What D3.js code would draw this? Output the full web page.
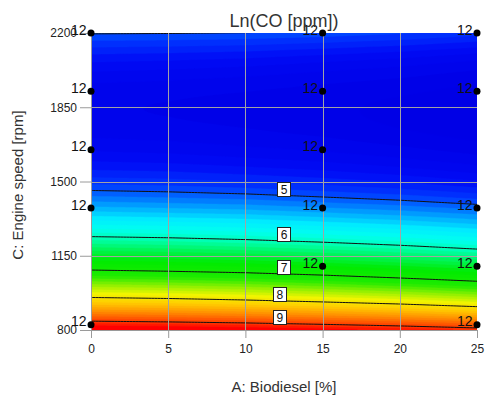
<!DOCTYPE html>
<html>
<head>
<meta charset="utf-8">
<script src="https://cdn.jsdelivr.net/npm/d3@7"></script>
<style>
  body { margin: 0; background: #fff; }
  svg { display: block; }
  text { font-family: Arial, "Liberation Sans", sans-serif; }
</style>
</head>
<body>
<svg id="chart" width="487" height="396"></svg>
<script>
// ---- data -------------------------------------------------------------
const biodieselLevels = [0, 5, 10, 15, 20, 25];                 // A: Biodiesel [%]
const speedLevels = [800, 940, 1080, 1220, 1360, 1500, 1640, 1780, 1920, 2060, 2200]; // C: Engine speed [rpm]

// Ln(CO [ppm]) along engine speed, one array per biodiesel level
const lnCO_B0  = [9.36, 8.09, 7.00, 6.10, 5.38, 4.85, 4.50, 4.33, 4.35, 4.60, 5.020];
const lnCO_B5  = [9.33, 8.05, 6.96, 6.07, 5.35, 4.83, 4.48, 4.31, 4.33, 4.58, 5.015];
const lnCO_B10 = [9.29, 7.99, 6.91, 6.02, 5.32, 4.79, 4.44, 4.28, 4.30, 4.55, 5.003];
const lnCO_B15 = [9.23, 7.91, 6.83, 5.95, 5.26, 4.74, 4.40, 4.24, 4.26, 4.50, 4.970];
const lnCO_B20 = [9.16, 7.82, 6.73, 5.87, 5.20, 4.68, 4.34, 4.18, 4.22, 4.45, 4.920];
const lnCO_B25 = [9.07, 7.70, 6.62, 5.77, 5.12, 4.60, 4.27, 4.12, 4.16, 4.38, 4.850];

// labelled contour levels and where their labels sit along A
const contourLevels = [5, 6, 7, 8, 9];
const contourLabelA = [12.47, 12.47, 12.47, 12.2, 12.2];

// design points (replicate count shown next to each)
const pointBiodiesel = [0, 0, 0, 0, 0, 15, 15, 15, 15, 15, 25, 25, 25, 25, 25];
const pointSpeed     = [825, 1375, 1650, 1925, 2200, 1100, 1375, 1650, 1925, 2200, 825, 1100, 1375, 1925, 2200];
const pointCount     = ["12", "12", "12", "12", "12", "12", "12", "12", "12", "12", "12", "12", "12", "12", "12"];

// axis ticks
const xTicks = [0, 5, 10, 15, 20, 25];
const yTicks = [800, 1150, 1500, 1850, 2200];

// colour ramp of the response
const rampValues = [4.20, 4.60, 4.90, 5.10, 5.30, 5.55, 5.80, 6.05, 6.35, 6.70, 7.20, 7.55, 7.85, 8.20, 8.60, 9.00, 9.25];
const rampColors = ["#0000e6", "#000af5", "#0037ff", "#006eff", "#00aaff", "#00ebff", "#00fff0", "#00ffb4",
                    "#00f55a", "#00eb00", "#1eeb00", "#96f000", "#f0f500", "#ffcd00", "#ff8c00", "#ff3c00", "#ff0000"];

// ---- layout -----------------------------------------------------------
const svg = d3.select("#chart");
const plotL = 91, plotR = 477, plotT = 33, plotB = 330;
const x = d3.scaleLinear().domain([0, 25]).range([plotL, plotR]);
const y = d3.scaleLinear().domain([800, 2200]).range([plotB, plotT]);
const color = d3.scaleLinear().domain(rampValues).range(rampColors).clamp(true);

const columns = [lnCO_B0, lnCO_B5, lnCO_B10, lnCO_B15, lnCO_B20, lnCO_B25];

// smooth reading of one column along engine speed (Catmull-Rom)
function alongSpeed(col, C) {
  const n = col.length;
  const step = speedLevels[1] - speedLevels[0];
  let q = (C - speedLevels[0]) / step;
  q = Math.max(0, Math.min(n - 1, q));
  const j = Math.min(n - 2, Math.floor(q));
  const s = q - j;
  const at = k => k < 0 ? 2 * col[0] - col[1] : k > n - 1 ? 2 * col[n - 1] - col[n - 2] : col[k];
  const p0 = at(j - 1), p1 = at(j), p2 = at(j + 1), p3 = at(j + 2);
  return 0.5 * (2 * p1 + (-p0 + p2) * s + (2 * p0 - 5 * p1 + 4 * p2 - p3) * s * s + (-p0 + 3 * p1 - 3 * p2 + p3) * s * s * s);
}
function surface(A, C) {
  const step = biodieselLevels[1] - biodieselLevels[0];
  const p = Math.max(0, Math.min(biodieselLevels.length - 1, (A - biodieselLevels[0]) / step));
  const i = Math.min(biodieselLevels.length - 2, Math.floor(p));
  const t = p - i;
  return alongSpeed(columns[i], C) * (1 - t) + alongSpeed(columns[i + 1], C) * t;
}

// sampled field, padded by one cell on every side
const dA = 0.2, dC = 5;
const nA = Math.round(25 / dA) + 1, nC = Math.round(1400 / dC) + 1;
const W = nA + 2, H = nC + 2;
const field = new Float64Array(W * H);
for (let j = 0; j < H; j++) {
  const C = 800 + Math.max(0, Math.min(nC - 1, j - 1)) * dC;
  for (let i = 0; i < W; i++) {
    const A = Math.max(0, Math.min(nA - 1, i - 1)) * dA;
    field[j * W + i] = surface(A, C);
  }
}
const toPx = d3.geoTransform({
  point(px, py) { this.stream.point(x((px - 1) * dA), y(800 + (py - 1) * dC)); }
});
const path = d3.geoPath(toPx);

svg.append("clipPath").attr("id", "plotClip")
  .append("rect").attr("x", plotL).attr("y", plotT).attr("width", plotR - plotL).attr("height", plotB - plotT);

const plot = svg.append("g").attr("clip-path", "url(#plotClip)");

// banded colour fill
const bandStep = 0.1;
const bandThresholds = d3.range(4.0, 9.6, bandStep);
plot.append("rect").attr("x", plotL).attr("y", plotT).attr("width", plotR - plotL).attr("height", plotB - plotT)
  .attr("fill", color(bandThresholds[0]));
plot.append("g").selectAll("path")
  .data(d3.contours().size([W, H]).thresholds(bandThresholds)(field))
  .join("path")
  .attr("d", path)
  .attr("fill", d => color(d.value + bandStep / 2))
  .attr("stroke", d => color(d.value + bandStep / 2))
  .attr("stroke-width", 0.4);

// grid lines
const gridG = svg.append("g").attr("stroke", "#a3a3a3").attr("stroke-width", 1);
gridG.selectAll(".gx").data(xTicks.slice(1, -1)).join("line")
  .attr("x1", d => Math.round(x(d)) + 0.5).attr("x2", d => Math.round(x(d)) + 0.5)
  .attr("y1", plotT).attr("y2", plotB);
gridG.selectAll(".gy").data(yTicks.slice(1, -1)).join("line")
  .attr("x1", plotL).attr("x2", plotR)
  .attr("y1", d => Math.round(y(d)) + 0.5).attr("y2", d => Math.round(y(d)) + 0.5);

// contour lines
plot.append("g").selectAll("path")
  .data(d3.contours().size([W, H]).thresholds(contourLevels)(field))
  .join("path")
  .attr("d", path)
  .attr("fill", "none")
  .attr("stroke", "#111")
  .attr("stroke-width", 1);

// contour labels: box resting on its line
function speedAtLevel(A, level) {
  let lo = 800, hi = 1700;
  for (let k = 0; k < 40; k++) {
    const mid = (lo + hi) / 2;
    if (surface(A, mid) > level) lo = mid; else hi = mid;
  }
  return (lo + hi) / 2;
}
const labels = svg.append("g");
contourLevels.forEach((lv, k) => {
  const cx = x(contourLabelA[k]);
  const by = y(speedAtLevel(contourLabelA[k], lv));
  const g = labels.append("g");
  g.append("rect").attr("x", Math.round(cx - 6.5) + 0.5).attr("y", Math.round(by - 14) + 0.5)
    .attr("width", 13).attr("height", 14).attr("fill", "#fff").attr("stroke", "#222").attr("stroke-width", 1);
  g.append("text").attr("x", cx + 0.5).attr("y", Math.round(by - 14) + 11.5)
    .attr("text-anchor", "middle").attr("font-size", 12).attr("fill", "#111").text(lv);
});

// axes
const axisColor = "#9a9a9a";
const gx = svg.append("g").attr("transform", `translate(0,${plotB})`)
  .call(d3.axisBottom(x).tickValues(xTicks).tickSize(8).tickSizeOuter(0).tickPadding(6).tickFormat(d3.format("d")));
const gy = svg.append("g").attr("transform", `translate(${plotL},0)`)
  .call(d3.axisLeft(y).tickValues(yTicks).tickSize(11).tickSizeOuter(0).tickPadding(3).tickFormat(d3.format("d")));
[gx, gy].forEach(g => {
  g.select(".domain").attr("stroke", axisColor);
  g.selectAll(".tick line").attr("stroke", axisColor);
  g.selectAll(".tick text").attr("fill", "#222").attr("font-size", 12)
    .attr("font-family", 'Arial, "Liberation Sans", sans-serif');
});

// design points
const pts = svg.append("g");
pointBiodiesel.forEach((a, k) => {
  const px = x(a), py = y(pointSpeed[k]);
  pts.append("circle").attr("cx", px).attr("cy", py).attr("r", 3.5).attr("fill", "#000");
  pts.append("text").attr("x", px - 4.5).attr("y", py + 1.5).attr("text-anchor", "end")
    .attr("font-size", 14).attr("fill", "#111").text(pointCount[k]);
});

// titles
svg.append("text").attr("x", 284).attr("y", 27).attr("text-anchor", "middle")
  .attr("font-size", 18).attr("fill", "#333").text("Ln(CO [ppm])");
svg.append("text").attr("x", 284).attr("y", 392).attr("text-anchor", "middle")
  .attr("font-size", 15).attr("fill", "#333").text("A: Biodiesel [%]");
svg.append("text").attr("transform", "translate(23,185) rotate(-90)").attr("text-anchor", "middle")
  .attr("font-size", 15).attr("fill", "#333").text("C: Engine speed [rpm]");
</script>
</body>
</html>
